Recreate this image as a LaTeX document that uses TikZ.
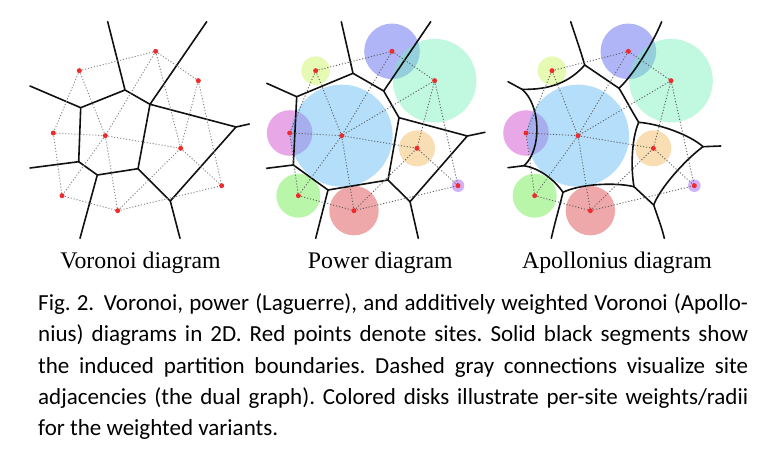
\documentclass[tikz,border=0pt]{standalone}
\usepackage{fontspec}
\setmainfont{Liberation Serif}
\newfontfamily\capfont{Carlito}
\frenchspacing
\definecolor{sitered}{RGB}{236,44,44}
\definecolor{duallight}{RGB}{130,130,130}
\definecolor{dualdark}{RGB}{95,95,95}
\definecolor{cellblack}{RGB}{17,17,17}
\definecolor{dA}{RGB}{199,244,88}
\definecolor{dB}{RGB}{79,91,239}
\definecolor{dC}{RGB}{115,239,186}
\definecolor{dD}{RGB}{204,62,204}
\definecolor{dE}{RGB}{88,182,244}
\definecolor{dF}{RGB}{239,182,84}
\definecolor{dG}{RGB}{102,235,66}
\definecolor{dH}{RGB}{217,62,66}
\definecolor{dI}{RGB}{151,79,239}
\begin{document}
\begin{tikzpicture}[x=1pt,y=-1pt,
  site/.style={circle,fill=sitered,inner sep=0pt,minimum size=5pt},
  dual/.style={line width=0.9pt,dash pattern=on 1.1pt off 1.9pt,draw=#1},
  cell/.style={line width=1.6pt,line join=round,line cap=round,draw=cellblack},
  disk/.style={circle,draw=none,inner sep=0pt,minimum size=#1,fill opacity=0.45},
  lbl/.style={font=\fontsize{23.8}{28}\selectfont,anchor=base,inner sep=0pt},
  capline/.style={font=\capfont\fontsize{23}{31}\selectfont,anchor=base west,inner sep=0pt}]
\useasboundingbox (0,0) rectangle (762,452);

% ---- sites (same layout in all three panels)
\foreach \p/\dx in {v/0,p/236.33,a/472.67}{
  \coordinate (\p A) at (79.33+\dx,70.67);
  \coordinate (\p B) at (155.67+\dx,51.33);
  \coordinate (\p C) at (198.33+\dx,80.67);
  \coordinate (\p D) at (53.33+\dx,133);
  \coordinate (\p E) at (105.33+\dx,135.67);
  \coordinate (\p F) at (180.67+\dx,148.33);
  \coordinate (\p G) at (62+\dx,195.67);
  \coordinate (\p H) at (117.67+\dx,210.67);
  \coordinate (\p I) at (221.67+\dx,185.67);
}

% ---- weight disks
\foreach \p in {p,a}{
  \node[disk=28.6pt,fill=dA] (\p dA) at (\p A) {};
  \node[disk=55.6pt,fill=dB] (\p dB) at (\p B) {};
  \node[disk=83.6pt,fill=dC] (\p dC) at (\p C) {};
  \node[disk=45.6pt,fill=dD] (\p dD) at (\p D) {};
  \node[disk=102pt,fill=dE] (\p dE) at (\p E) {};
  \node[disk=36pt,fill=dF] (\p dF) at (\p F) {};
  \node[disk=44pt,fill=dG] (\p dG) at (\p G) {};
  \node[disk=49.4pt,fill=dH] (\p dH) at (\p H) {};
  \node[disk=12.6pt,fill=dI] (\p dI) at (\p I) {};
}

% ---- Voronoi cells
\coordinate (v1) at (125,90);
\coordinate (v2) at (150,104.3);
\coordinate (v3) at (80.7,107.7);
\coordinate (v4) at (78.7,161.7);
\coordinate (v5) at (97.3,175);
\coordinate (v6) at (138,168.7);
\coordinate (v7) at (170.3,201);
\coordinate (v8) at (236,127);
\coordinate (vt1) at (107.7,21.7);
\coordinate (vt2) at (206.7,21.7);
\coordinate (vl1) at (30,86);
\coordinate (vl2) at (30,168);
\coordinate (vb1) at (80,238.3);
\coordinate (vb2) at (180,238.3);
\coordinate (vr) at (249.3,124);
\draw[cell] (vt1) -- (v1) -- (v2) -- (v6) -- (v5) -- (v4) -- (v3) -- (v1);
\draw[cell] (vl1) -- (v3);
\draw[cell] (vl2) -- (v4);
\draw[cell] (vb1) -- (v5);
\draw[cell] (v6) -- (v7) -- (v8) -- (v2) -- (vt2);
\draw[cell] (vb2) -- (v7);
\draw[cell] (v8) -- (vr);

% ---- Power cells
\coordinate (p1) at (353,73.3);
\coordinate (p2) at (383.7,91);
\coordinate (p3) at (296.7,96.7);
\coordinate (p4) at (399,117.7);
\coordinate (p5) at (293.3,165);
\coordinate (p6) at (328,190);
\coordinate (p7) at (388,180);
\coordinate (p8) at (410,201.7);
\coordinate (p9) at (467.3,136);
\coordinate (pt1) at (341.3,21.7);
\coordinate (pt2) at (430.7,21.7);
\coordinate (pl1) at (266.7,83.3);
\coordinate (pl2) at (266.7,168.3);
\coordinate (pb1) at (315.7,238.3);
\coordinate (pb2) at (418.3,238.3);
\coordinate (pr) at (485,132.3);
\draw[cell] (pt1) -- (p1) -- (p2) -- (p4) -- (p7) -- (p6) -- (p5) -- (p3) -- (p1);
\draw[cell] (pl1) -- (p3);
\draw[cell] (pl2) -- (p5);
\draw[cell] (pb1) -- (p6);
\draw[cell] (p2) -- (pt2);
\draw[cell] (p4) -- (p9) -- (p8) -- (p7);
\draw[cell] (p9) -- (pr);
\draw[cell] (p8) -- (pb2);

% ---- Apollonius cells (hyperbolic arcs)
\coordinate (q1) at (584.7,65);
\coordinate (q2) at (619,88.3);
\coordinate (q3) at (522,89.3);
\coordinate (q4) at (638.7,122.3);
\coordinate (q5) at (524,165.7);
\coordinate (q6) at (563,192.3);
\coordinate (q7) at (634,186.7);
\coordinate (q8) at (653.7,205);
\coordinate (q9) at (703,146.7);
\coordinate (qt1) at (570.7,21.7);
\coordinate (qt2) at (661.7,21.7);
\coordinate (ql1) at (508,81.7);
\coordinate (ql2) at (508,167.7);
\coordinate (qb1) at (551.3,238.3);
\coordinate (qb2) at (664.3,238.3);
\coordinate (qr) at (720.7,146);
\draw[cell] (qt1) .. controls (576,38) and (581,52) .. (q1);
\draw[cell] (q1) -- (q2);
\draw[cell] (q1) .. controls (570,82) and (550,90) .. (q3);
\draw[cell] (ql1) -- (q3);
\draw[cell] (q3) .. controls (541,105) and (542,150) .. (q5);
\draw[cell] (ql2) -- (q5);
\draw[cell] (q5) .. controls (538,168) and (553,178) .. (q6);
\draw[cell] (q6) .. controls (560,205) and (555,222) .. (qb1);
\draw[cell] (q6) .. controls (580,184) and (615,182) .. (q7);
\draw[cell] (q7) .. controls (631,170) and (631,140) .. (q4);
\draw[cell] (q4) .. controls (630,108) and (625,98) .. (q2);
\draw[cell] (q2) .. controls (633,75) and (652,45) .. (qt2);
\draw[cell] (q4) .. controls (660,124) and (690,135) .. (q9);
\draw[cell] (q9) -- (qr);
\draw[cell] (q8) .. controls (660,188) and (685,160) .. (q9);
\draw[cell] (q7) -- (q8);
\draw[cell] (q8) .. controls (658,218) and (662,228) .. (qb2);

% ---- dual graph (site adjacencies)
\foreach \u/\w in {A/B,A/D,A/E,B/E,B/C,B/F,C/F,C/I,D/E,D/G,E/F,E/G,E/H,G/H,H/F,H/I,F/I}
  \draw[dual=duallight] (v\u) -- (v\w);
\foreach \p in {p,a}{
  \foreach \u/\w in {A/B,A/D,A/E,B/E,B/C,C/E,C/F,C/I,D/E,D/G,E/F,E/G,E/H,G/H,H/F,H/I,F/I}
    \draw[dual=dualdark] (\p\u) -- (\p\w);
}

% ---- site markers
\foreach \p in {v,p,a}{
  \foreach \s in {A,B,C,D,E,F,G,H,I}
    \node[site] (\p s\s) at (\p\s) {};
}

% ---- panel labels
\node[lbl] (lv) at (140.5,268.3) {Voronoi diagram};
\node[lbl] (lp) at (380.3,268.3) {Power diagram};
\node[lbl] (la) at (617,268.3) {Apollonius diagram};

% ---- caption
\node[capline] (cap1) at (38,310) {\makebox[710pt][s]{Fig.~2.\hspace{0.15em} Voronoi, power (Laguerre), and additively weighted Voronoi (Apollo-}};
\node[capline] (cap2) at (38,341.5) {\makebox[710pt][s]{nius) diagrams in 2D. Red points denote sites. Solid black segments show}};
\node[capline] (cap3) at (38,373) {\makebox[710pt][s]{the induced partition boundaries. Dashed gray connections visualize site}};
\node[capline] (cap4) at (38,404) {\makebox[710pt][s]{adjacencies (the dual graph). Colored disks illustrate per-site weights/radii}};
\node[capline] (cap5) at (38,435) {for the weighted variants.};
\end{tikzpicture}
\end{document}
